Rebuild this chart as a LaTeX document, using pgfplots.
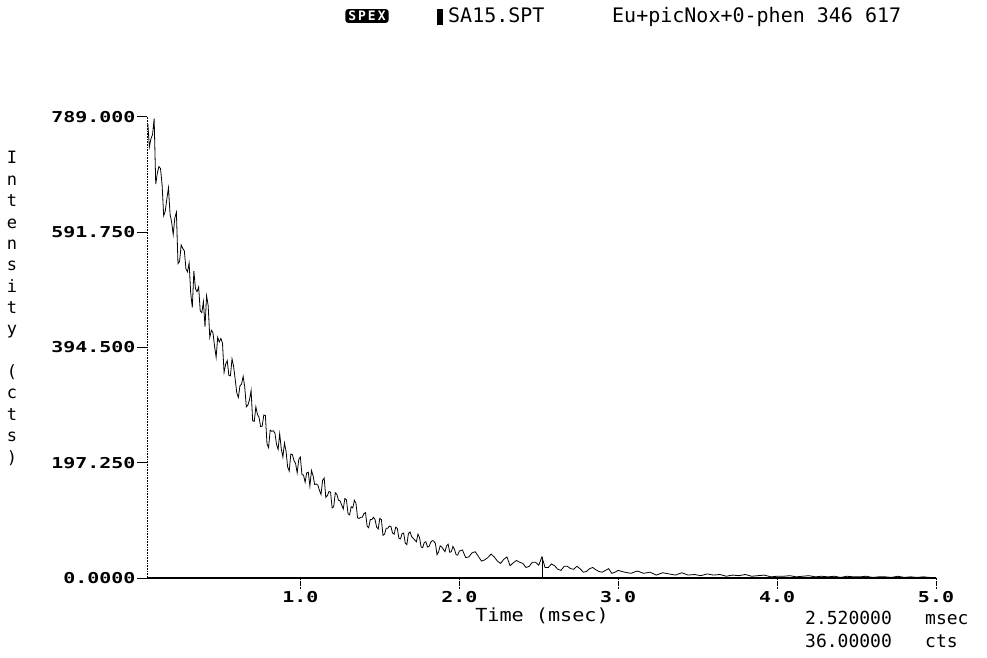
\documentclass[border=0pt]{standalone}
\usepackage{fontspec}
\usepackage{pgfplots}
\pgfplotsset{compat=1.18}
\newfontfamily\dmono{DejaVu Sans Mono}
\pgfplotstableread{
x y
0.04 778
0.05 738
0.06 752
0.07 759
0.08 786
0.09 674
0.10 693
0.11 704
0.12 701
0.13 673
0.14 620
0.15 628
0.16 649
0.17 668
0.18 623
0.19 609
0.20 588
0.21 616
0.22 626
0.23 538
0.24 542
0.25 570
0.26 564
0.27 560
0.28 529
0.29 524
0.30 539
0.31 488
0.32 463
0.33 525
0.34 495
0.35 490
0.36 498
0.37 457
0.38 454
0.39 473
0.40 430
0.41 483
0.42 466
0.43 412
0.44 424
0.45 420
0.46 397
0.47 378
0.48 412
0.49 404
0.50 410
0.51 402
0.52 352
0.53 366
0.54 372
0.55 347
0.56 346
0.57 375
0.58 362
0.59 340
0.60 317
0.61 309
0.62 329
0.63 332
0.64 345
0.65 327
0.66 293
0.67 296
0.68 305
0.69 321
0.70 269
0.71 268
0.72 293
0.73 280
0.74 275
0.75 259
0.76 260
0.77 279
0.78 278
0.79 230
0.80 223
0.81 253
0.82 251
0.83 252
0.84 248
0.85 229
0.86 220
0.87 247
0.88 221
0.89 207
0.90 231
0.91 217
0.92 190
0.93 183
0.94 212
0.95 211
0.96 201
0.97 196
0.98 180
0.99 203
1.00 207
1.01 177
1.02 176
1.03 164
1.04 180
1.05 181
1.06 157
1.07 184
1.08 175
1.09 160
1.10 161
1.11 159
1.12 150
1.13 143
1.14 167
1.15 171
1.16 138
1.17 141
1.18 148
1.19 147
1.20 120
1.21 122
1.22 146
1.23 143
1.24 133
1.25 132
1.26 125
1.27 118
1.28 136
1.29 134
1.30 110
1.31 108
1.32 122
1.33 120
1.34 133
1.35 128
1.36 103
1.37 102
1.38 104
1.39 104
1.40 110
1.41 112
1.42 89
1.43 86
1.44 100
1.45 100
1.46 104
1.47 100
1.48 87
1.49 84
1.50 102
1.51 100
1.52 73
1.53 75
1.54 85
1.55 85
1.56 89
1.57 88
1.58 77
1.59 75
1.60 87
1.61 85
1.62 68
1.63 67
1.64 76
1.65 77
1.66 60
1.67 57
1.68 76
1.69 79
1.70 71
1.71 68
1.72 65
1.73 62
1.74 75
1.75 69
1.76 53
1.77 52
1.78 61
1.79 62
1.80 53
1.81 54
1.82 61
1.83 64
1.84 63
1.85 59
1.86 40
1.87 45
1.88 55
1.89 53
1.90 49
1.91 45
1.92 55
1.93 58
1.94 44
1.95 45
1.96 54
1.97 49
1.98 40
1.99 39
2.00 46
2.02 48
2.04 35
2.06 36
2.08 43
2.10 45
2.12 37
2.14 29
2.16 31
2.18 35
2.20 41
2.22 36
2.24 29
2.26 25
2.28 32
2.30 36
2.32 21
2.34 26
2.36 30
2.38 27
2.40 25
2.42 18
2.44 20
2.46 27
2.48 27
2.50 22
2.52 36
2.54 18
2.56 18
2.58 24
2.60 21
2.62 15
2.64 13
2.66 20
2.68 20
2.70 16
2.72 15
2.74 20
2.76 16
2.78 10
2.80 11
2.82 16
2.84 18
2.86 14
2.88 11
2.90 10
2.92 13
2.94 16
2.96 8
2.98 10
3.00 13
3.04 10
3.08 8
3.12 12
3.16 8
3.20 10
3.24 5
3.28 9
3.32 7
3.36 5
3.40 9
3.44 5
3.48 6
3.52 4
3.56 7
3.60 5
3.64 6
3.68 3
3.72 5
3.76 4
3.80 6
3.84 3
3.88 4
3.92 5
3.96 2
4.00 3
4.04 3
4.08 4
4.12 2
4.16 3
4.20 4
4.24 2
4.28 3
4.32 2
4.36 3
4.40 1
4.44 3
4.48 2
4.52 2
4.56 3
4.60 1
4.64 2
4.68 2
4.72 1
4.76 3
4.80 1
4.84 2
4.88 1
4.92 2
4.96 1
5.00 1
}\decay
\begin{document}
\begin{tikzpicture}[x=1pt,y=1pt]
\useasboundingbox (0,0) rectangle (987,657);
\begin{axis}[
  at={(147pt,79pt)}, anchor=south west,
  scale only axis, width=789pt, height=461pt,
  xmin=0.035, xmax=5.0, ymin=0, ymax=789,
  axis x line=bottom, axis y line=left,
  axis line style={-},
  x axis line style={line width=1.1pt},
  y axis line style={densely dotted, line width=0.6pt},
  tick align=outside, major tick length=10pt,
  xtick={1,2,3,4,5}, xticklabels={1.0,2.0,3.0,4.0,5.0},
  ytick={0,197.25,394.5,591.75,789},
  yticklabels={0.0000,197.250,394.500,591.750,789.000},
  xtick style={densely dotted, line width=0.6pt, black},
  ytick style={solid, line width=1pt, black},
  ticklabel style={font=\fontsize{15}{15}\selectfont\dmono\bfseries, xscale=1.33},
  yticklabel style={inner xsep=1pt},
  minor tick num=0,
]
\addplot[black, line width=0.8pt] table {\decay};
\addplot[black, line width=0.5pt] coordinates {(2.52,0) (2.52,36)};
\end{axis}
% header
\node[fill=black, text=white, rounded corners=3pt, inner xsep=3pt, inner ysep=2pt,
      font=\fontsize{13}{13}\selectfont\dmono\bfseries] at (367,641)
      {S\kern2pt P\kern2pt E\kern2pt X};
\fill (437,632) rectangle (443,648);
\node[anchor=base west, inner sep=0pt, font=\fontsize{20}{20}\selectfont\dmono] at (448,634) {SA15.SPT};
\node[anchor=base west, inner sep=0pt, font=\fontsize{20}{20}\selectfont\dmono] at (612,634) {Eu+picNox+0-phen 346 617};
% y label, stacked letters
\foreach \c [count=\i] in {I,n,t,e,n,s,i,t,y,{},{(},c,t,s,{)}} {
  \node[anchor=base, inner sep=0pt, font=\fontsize{17}{17}\selectfont\dmono] at (12,{493-(\i-1)*21.36}) {\c};
}
% x label
\node[anchor=base, inner sep=0pt, xscale=1.12, font=\fontsize{18}{18}\selectfont\dmono] at (542,36) {Time (msec)};
% cursor readout
\node[anchor=base west, inner sep=0pt, font=\fontsize{18}{18}\selectfont\dmono] at (805,33) {2.520000};
\node[anchor=base west, inner sep=0pt, font=\fontsize{18}{18}\selectfont\dmono] at (925,33) {msec};
\node[anchor=base west, inner sep=0pt, font=\fontsize{18}{18}\selectfont\dmono] at (805,10) {36.00000};
\node[anchor=base west, inner sep=0pt, font=\fontsize{18}{18}\selectfont\dmono] at (925,10) {cts};
\end{tikzpicture}
\end{document}
